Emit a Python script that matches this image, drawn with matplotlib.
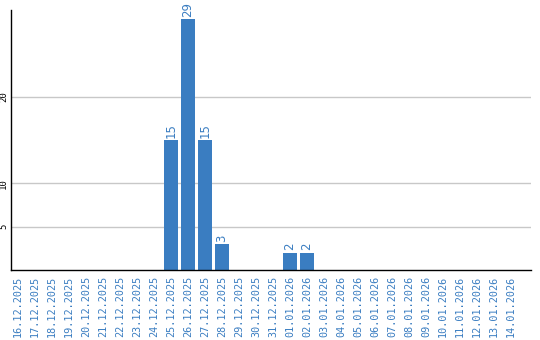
import matplotlib
matplotlib.use("Agg")
import matplotlib.pyplot as plt
import numpy as np

dates = ["16.12.2025", "17.12.2025", "18.12.2025", "19.12.2025", "20.12.2025",
         "21.12.2025", "22.12.2025", "23.12.2025", "24.12.2025", "25.12.2025",
         "26.12.2025", "27.12.2025", "28.12.2025", "29.12.2025", "30.12.2025",
         "31.12.2025", "01.01.2026", "02.01.2026", "03.01.2026", "04.01.2026",
         "05.01.2026", "06.01.2026", "07.01.2026", "08.01.2026", "09.01.2026",
         "10.01.2026", "11.01.2026", "12.01.2026", "13.01.2026", "14.01.2026"]
values = [0, 0, 0, 0, 0, 0, 0, 0, 0, 15, 29, 15, 3, 0, 0, 0, 2, 2,
          0, 0, 0, 0, 0, 0, 0, 0, 0, 0, 0, 0]
yticks = [5, 10, 20]

blue = "#3a7dc1"
fig = plt.figure(figsize=(5.4, 3.4), dpi=100)
ax = fig.add_axes([11/540, 70/340, 520/540, 260/340])
x = np.arange(len(dates))
ax.bar(x, values, width=0.82, color=blue, zorder=2)
for xi, v in zip(x, values):
    if v > 0:
        ax.text(xi, v + 0.25, str(v), rotation=90, ha="center", va="bottom",
                color=blue, fontsize=8.5, family="DejaVu Sans")
ax.set_xlim(-0.41, 30.18)
ax.set_ylim(0, 30)
ax.set_yticks(yticks)
ax.set_yticklabels([str(t) for t in yticks], rotation=90, va="center",
                   fontsize=6.5, family="DejaVu Sans Mono")
ax.set_xticks(x)
ax.set_xticklabels(dates, rotation=90, fontsize=7.3, family="DejaVu Sans Mono",
                   color=blue)
ax.tick_params(axis="both", length=0)
ax.tick_params(axis="y", pad=2)
ax.tick_params(axis="x", pad=4)
ax.grid(axis="y", color="#c8c8c8", linewidth=1, zorder=0)
ax.set_axisbelow(True)
for s in ["top", "right"]:
    ax.spines[s].set_visible(False)
for s in ["left", "bottom"]:
    ax.spines[s].set_color("black")
    ax.spines[s].set_linewidth(1)
fig.savefig("out.png", dpi=100)
